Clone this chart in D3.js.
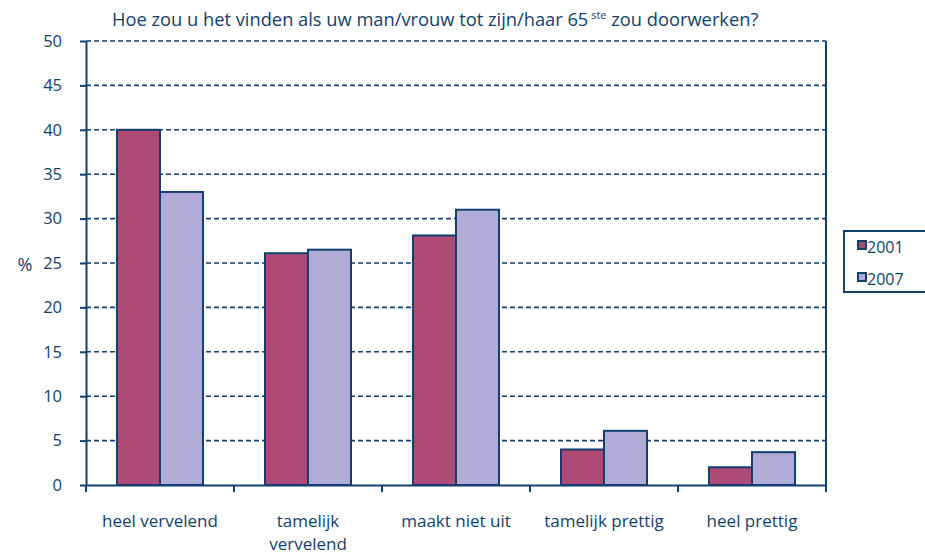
<!DOCTYPE html>
<html>
<head>
<meta charset="utf-8">
<script src="https://cdn.jsdelivr.net/npm/d3@7"></script>
<style>
  body { margin: 0; background: #fff; }
  text { font-family: "Open Sans", sans-serif; fill: #123f6e; }
</style>
</head>
<body>
<svg id="drawing_region"></svg>
<script>
// data
const categories = ["heel vervelend", "tamelijk vervelend", "maakt niet uit", "tamelijk prettig", "heel prettig"];
const years = ["2001", "2007"];
const values2001 = [40, 26.1, 28.1, 4, 2];
const values2007 = [33, 26.5, 31, 6.1, 3.7];
const yTicks = [0, 5, 10, 15, 20, 25, 30, 35, 40, 45, 50];
const colors = ["#ae4a76", "#b0acd5"];

const navy = "#123f6e";
const width = 925, height = 556;
const margin = { left: 86, right: 826, top: 41, bottom: 485 };

const svg = d3.select('#drawing_region')
    .attr('width', width)
    .attr('height', height);

const x = d3.scaleBand()
    .domain(categories)
    .range([margin.left, margin.right])
    .padding(0);

const xSub = d3.scaleBand()
    .domain(years)
    .range([31, x.bandwidth() - 31])
    .padding(0);

const y = d3.scaleLinear()
    .domain([0, 50])
    .range([margin.bottom, margin.top]);

// dashed grid
svg.append('g')
    .selectAll('line')
    .data(yTicks.filter(d => d > 0))
    .enter()
    .append('line')
    .attr('x1', margin.left)
    .attr('x2', margin.right)
    .attr('y1', d => y(d))
    .attr('y2', d => y(d))
    .attr('stroke', navy)
    .attr('stroke-width', 1.6)
    .attr('stroke-dasharray', '5,3');

// right border
svg.append('line')
    .attr('x1', margin.right).attr('x2', margin.right)
    .attr('y1', margin.top).attr('y2', margin.bottom + 6)
    .attr('stroke', navy).attr('stroke-width', 2);

// bars
const data = categories.map((c, i) => ({ cat: c, vals: [values2001[i], values2007[i]] }));

const groups = svg.append('g')
    .selectAll('g')
    .data(data)
    .enter()
    .append('g')
    .attr('transform', d => `translate(${x(d.cat)},0)`);

groups.selectAll('rect')
    .data(d => d.vals.map((v, j) => ({ year: years[j], value: v, idx: j })))
    .enter()
    .append('rect')
    .attr('x', d => xSub(d.year))
    .attr('y', d => y(d.value))
    .attr('width', xSub.bandwidth())
    .attr('height', d => y(0) - y(d.value))
    .attr('fill', d => colors[d.idx])
    .attr('stroke', navy)
    .attr('stroke-width', 2);

// y axis
const yAxis = d3.axisLeft(y)
    .tickValues(yTicks)
    .tickSize(6)
    .tickSizeOuter(0)
    .tickPadding(18);

const yg = svg.append('g')
    .attr('transform', `translate(${margin.left},0)`)
    .call(yAxis);
yg.select('.domain').attr('stroke', navy).attr('stroke-width', 2);
yg.selectAll('.tick line').attr('stroke', navy).attr('stroke-width', 2);
yg.selectAll('.tick text')
    .style('font-size', '16.5px')
    .attr('fill', navy);

// x axis
const xAxis = d3.axisBottom(x)
    .tickSize(0)
    .tickFormat('');
const xg = svg.append('g')
    .attr('transform', `translate(0,${margin.bottom})`)
    .call(xAxis);
xg.select('.domain').attr('stroke', navy).attr('stroke-width', 2);

// x tick marks at band edges
svg.append('g')
    .selectAll('line')
    .data(categories.concat(['end']))
    .enter()
    .append('line')
    .attr('x1', d => d === 'end' ? margin.right : x(d))
    .attr('x2', d => d === 'end' ? margin.right : x(d))
    .attr('y1', margin.bottom)
    .attr('y2', margin.bottom + 7)
    .attr('stroke', navy)
    .attr('stroke-width', 2);

// x labels
const xLabels = svg.append('g')
    .selectAll('text')
    .data(categories)
    .enter()
    .append('text')
    .attr('x', d => x(d) + x.bandwidth() / 2)
    .attr('y', 527)
    .attr('text-anchor', 'middle')
    .style('font-size', '17px');

xLabels.each(function(d) {
    const t = d3.select(this);
    if (d === "tamelijk vervelend") {
        t.append('tspan').attr('x', x(d) + x.bandwidth() / 2).text('tamelijk');
        t.append('tspan').attr('x', x(d) + x.bandwidth() / 2).attr('dy', 23).text('vervelend');
    } else {
        t.text(d);
    }
});

// y label
svg.append('text')
    .attr('x', 25)
    .attr('y', 271)
    .attr('text-anchor', 'middle')
    .style('font-size', '18px')
    .text('%');

// title
const title = svg.append('text')
    .attr('x', 112)
    .attr('y', 26)
    .style('font-size', '18.3px');
title.append('tspan').text('Hoe zou u het vinden als uw man/vrouw tot zijn/haar 65');
title.append('tspan').attr('dy', -7).style('font-size', '11px').text(' ste');
title.append('tspan').attr('dy', 7).text('  zou doorwerken?');

// legend
const legend = svg.append('g');
legend.append('rect')
    .attr('x', 844)
    .attr('y', 231)
    .attr('width', 90)
    .attr('height', 61)
    .attr('fill', 'none')
    .attr('stroke', navy)
    .attr('stroke-width', 2);

const items = legend.selectAll('g')
    .data(years)
    .enter()
    .append('g')
    .attr('transform', (d, i) => `translate(858,${241 + i * 32})`);

items.append('rect')
    .attr('width', 8)
    .attr('height', 8)
    .attr('fill', (d, i) => colors[i])
    .attr('stroke', navy)
    .attr('stroke-width', 2);

items.append('text')
    .attr('x', 9)
    .attr('y', 12)
    .style('font-size', '16px')
    .text(d => d);
</script>
</body>
</html>
